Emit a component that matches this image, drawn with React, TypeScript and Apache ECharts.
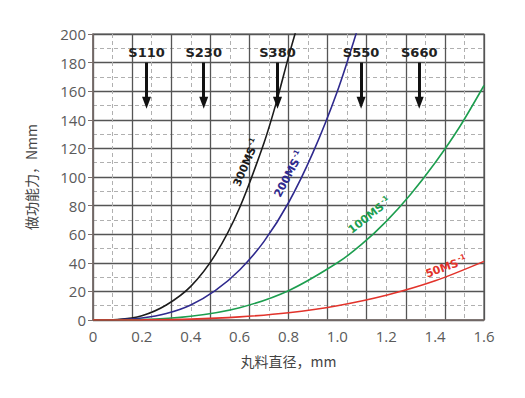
import React, { useEffect, useRef } from "react";
import * as echarts from "echarts";

// Curve readings (diameter mm, energy Nmm)
const x300 = [0, 0.1, 0.2, 0.3, 0.4, 0.5, 0.6, 0.7, 0.75, 0.8, 0.83];
const y300 = [0, 0.4, 3, 10.5, 23.5, 45.5, 78.5, 124, 152, 184, 202];
const x200 = [0, 0.1, 0.2, 0.3, 0.4, 0.5, 0.6, 0.7, 0.8, 0.9, 1.0, 1.08];
const y200 = [0, 0.2, 1.4, 4.5, 10.5, 20.5, 35, 55, 82, 117, 160, 202];
const x100 = [0, 0.2, 0.4, 0.6, 0.8, 1.0, 1.1, 1.2, 1.3, 1.4, 1.5, 1.6];
const y100 = [0, 0.3, 2.6, 8.6, 20.5, 40, 53, 69, 88, 110, 135, 164];
const x50 = [0, 0.2, 0.4, 0.6, 0.8, 1.0, 1.2, 1.4, 1.6];
const y50 = [0, 0.1, 0.6, 2.2, 5.1, 10, 17.3, 27.4, 41];

const curveNames = ["300MS", "200MS", "100MS", "50MS"];
const curveColors = ["#1c1c1c", "#2f2a8e", "#1d9e4f", "#e2332b"];
// label anchor positions (data coords) and rotation
const curveLabelX = [0.628, 0.802, 1.132, 1.445];
const curveLabelY = [110, 102, 73, 37];
const curveLabelRot = [67, 62, 38, 20];

// Shot size markers
const shotNames = ["S110", "S230", "S380", "S550", "S660"];
const shotX = [0.219, 0.453, 0.755, 1.097, 1.335];
const shotLabelY = 187;
const arrowTop = 180;
const arrowBottom = 152;

const zip = (xs: number[], ys: number[]) => xs.map((x, i) => [x, ys[i]]);

export default function App() {
  const ref = useRef<HTMLDivElement>(null);
  useEffect(() => {
    if (!ref.current) return;
    const chart = echarts.init(ref.current, undefined, { renderer: "svg" });
    const datasets = [zip(x300, y300), zip(x200, y200), zip(x100, y100), zip(x50, y50)];
    const series: any[] = datasets.map((d, i) => ({
      type: "line",
      name: curveNames[i],
      data: d,
      smooth: 0.3,
      showSymbol: false,
      symbol: "none",
      xAxisIndex: 0,
      yAxisIndex: 0,
      lineStyle: { color: curveColors[i], width: 1.6 },
      z: 3,
      markPoint: {
        symbol: "circle",
        symbolSize: 0,
        silent: true,
        data: [
          {
            coord: [curveLabelX[i], curveLabelY[i]],
            label: {
              show: true,
              position: "inside",
              rotate: curveLabelRot[i],
              formatter: `{a|${curveNames[i]}}{b|-1}`,
              rich: {
                a: { fontSize: 11, fontWeight: "bold", color: curveColors[i], fontFamily: "DejaVu Sans", lineHeight: 14 },
                b: { fontSize: 7, fontWeight: "bold", color: curveColors[i], fontFamily: "DejaVu Sans", lineHeight: 14, verticalAlign: "top", padding: [0, 0, 6, 1] },
              },
            },
          },
        ],
      },
    }));
    series.push({
      type: "line",
      name: "shots",
      data: [],
      xAxisIndex: 0,
      yAxisIndex: 0,
      z: 5,
      markLine: {
        silent: true,
        symbol: ["none", "triangle"],
        symbolSize: [9, 12],
        label: { show: false },
        lineStyle: { color: "#111", width: 3, type: "solid" },
        data: shotX.map((x) => [{ coord: [x, arrowTop] }, { coord: [x, arrowBottom] }]),
      },
      markPoint: {
        symbol: "circle",
        symbolSize: 0,
        silent: true,
        data: shotX.map((x, i) => ({
          coord: [x, shotLabelY],
          label: {
            show: true,
            position: "inside",
            formatter: shotNames[i],
            fontSize: 13,
            fontWeight: "bold",
            color: "#222",
            fontFamily: "DejaVu Sans",
          },
        })),
      },
    });

    chart.setOption({
      animation: false,
      backgroundColor: "#fff",
      grid: {
        left: 93,
        right: 41,
        top: 34,
        bottom: 78,
        show: true,
        borderColor: "#555",
        borderWidth: 1.2,
        backgroundColor: "transparent",
      },
      xAxis: [
        {
          type: "value",
          min: 0,
          max: 1.6,
          interval: 0.2,
          name: "丸料直径，mm",
          nameLocation: "middle",
          nameGap: 34,
          nameTextStyle: { fontSize: 14, color: "#444", fontFamily: "Noto Sans CJK SC" },
          axisLine: { show: true, lineStyle: { color: "#7a6e6b", width: 1.5 } },
          axisTick: { show: false },
          axisLabel: {
            fontSize: 15,
            color: "#5a5a5a",
            fontFamily: "Open Sans",
            margin: 8,
            formatter: (v: number) => (v === 0 ? "0" : v.toFixed(1)),
          },
          splitLine: { show: false },
        },
        {
          type: "value",
          min: 0,
          max: 1.6,
          interval: 0.16,
          position: "bottom",
          axisLine: { show: false },
          axisTick: { show: false },
          axisLabel: { show: false },
          splitLine: { show: true, lineStyle: { color: "#555", width: 1.3 } },
          minorTick: { show: false, splitNumber: 2 },
          minorSplitLine: { show: true, lineStyle: { color: "#b0b0b0", width: 1, type: [4, 3] } },
        },
      ],
      yAxis: {
        type: "value",
        min: 0,
        max: 200,
        interval: 20,
        name: "做功能力，Nmm",
        nameLocation: "middle",
        nameGap: 55,
        nameTextStyle: { fontSize: 14, color: "#444", fontFamily: "Noto Sans CJK SC" },
        axisLine: { show: true, lineStyle: { color: "#7a6e6b", width: 1.5 } },
        axisTick: { show: true, length: 5, lineStyle: { color: "#7a6e6b" } },
        axisLabel: { fontSize: 15, color: "#5a5a5a", fontFamily: "Open Sans", margin: 7 },
        splitLine: { show: true, lineStyle: { color: "#555", width: 1.3 } },
        minorTick: { show: false, splitNumber: 2 },
        minorSplitLine: { show: true, lineStyle: { color: "#b0b0b0", width: 1, type: [4, 3] } },
      },
      series,
    });
    return () => chart.dispose();
  }, []);
  return (
    <div
      ref={ref}
      style={{ position: "fixed", left: 0, top: 0, width: 525, height: 398 }}
    />
  );
}
